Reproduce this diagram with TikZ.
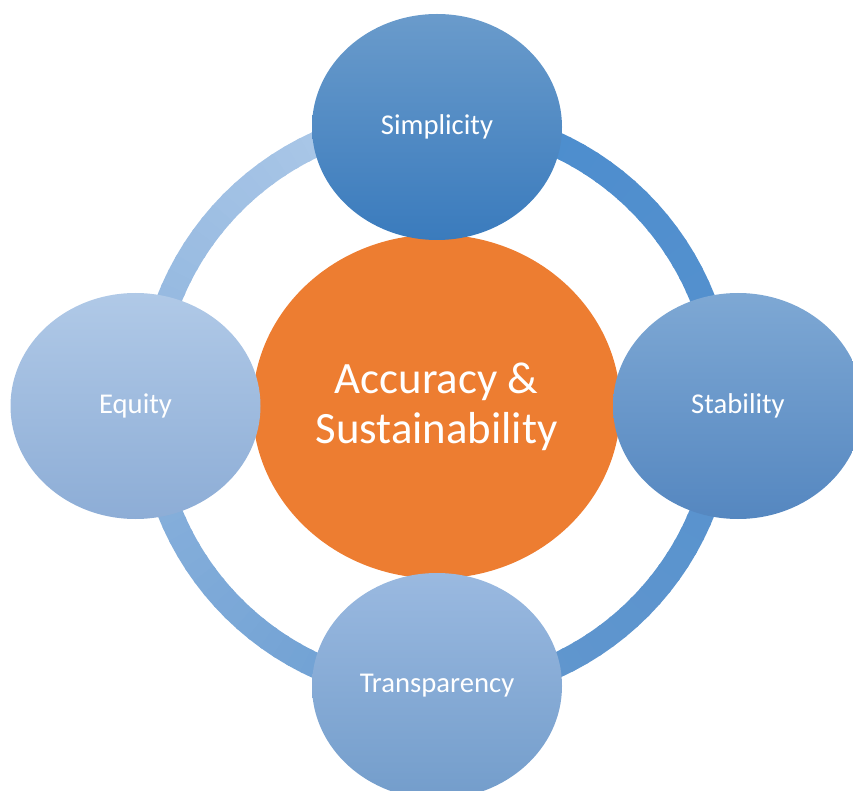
\documentclass[tikz,border=0pt]{standalone}
\usepackage{fontspec}
\setmainfont{Carlito}
\usetikzlibrary{shapes.geometric}

\definecolor{coreorange}{RGB}{237,125,49}
\definecolor{ringlight}{RGB}{178,204,234}
\definecolor{ringmid}{RGB}{96,150,206}
\definecolor{ringdark}{RGB}{74,140,206}

\begin{document}
\begin{tikzpicture}[x=0.75pt,y=0.75pt,yscale=-1,xscale=1,
  ringpart/.style={line width=18.75pt},
  pillar/.style={ellipse,minimum width=187.5pt,minimum height=169.5pt,inner sep=0pt,
    text=white,font=\fontsize{21.5}{26}\selectfont}]
\useasboundingbox (0,0) rectangle (853,791);

%Shape: Ring, light at the top going round to dark
\begin{scope}[shift={(436,405)}]
\foreach \a in {0,3,...,198} {
  \pgfmathsetmacro{\p}{\a/2}
  \pgfmathsetmacro{\s}{-90-\a}
  \draw [ringpart,color=ringmid!\p!ringlight] (\s:287) arc [start angle=\s, end angle=\s-3.6, radius=287];
}
\foreach \a in {201,204,...,357} {
  \pgfmathsetmacro{\p}{(\a-201)/1.56}
  \pgfmathsetmacro{\s}{-90-\a}
  \draw [ringpart,color=ringdark!\p!ringmid] (\s:287) arc [start angle=\s, end angle=\s-3.6, radius=287];
}
\end{scope}

%Shape: Ellipse [core]
\node (core) [ellipse,minimum width=276pt,minimum height=258pt,inner sep=0pt,fill=coreorange,
  text=white,align=center,font=\fontsize{33.6}{37.5}\selectfont] at (436.5,406.5) {Accuracy \&\\Sustainability};

%Shape: Ellipse [pillars]
\node (simplicity) [pillar,top color={rgb,255:red,106;green,155;blue,203},bottom color={rgb,255:red,58;green,123;blue,189}] at (437,127) {Simplicity};
\node (stability) [pillar,top color={rgb,255:red,126;green,168;blue,212},bottom color={rgb,255:red,85;green,135;blue,192}] at (738,406) {Stability};
\node (equity) [pillar,top color={rgb,255:red,176;green,201;blue,231},bottom color={rgb,255:red,141;green,173;blue,214}] at (135.5,406) {Equity};
\node (transparency) [pillar,top color={rgb,255:red,154;green,185;blue,224},bottom color={rgb,255:red,115;green,157;blue,203}] at (437,686) {Transparency};

\end{tikzpicture}
\end{document}
